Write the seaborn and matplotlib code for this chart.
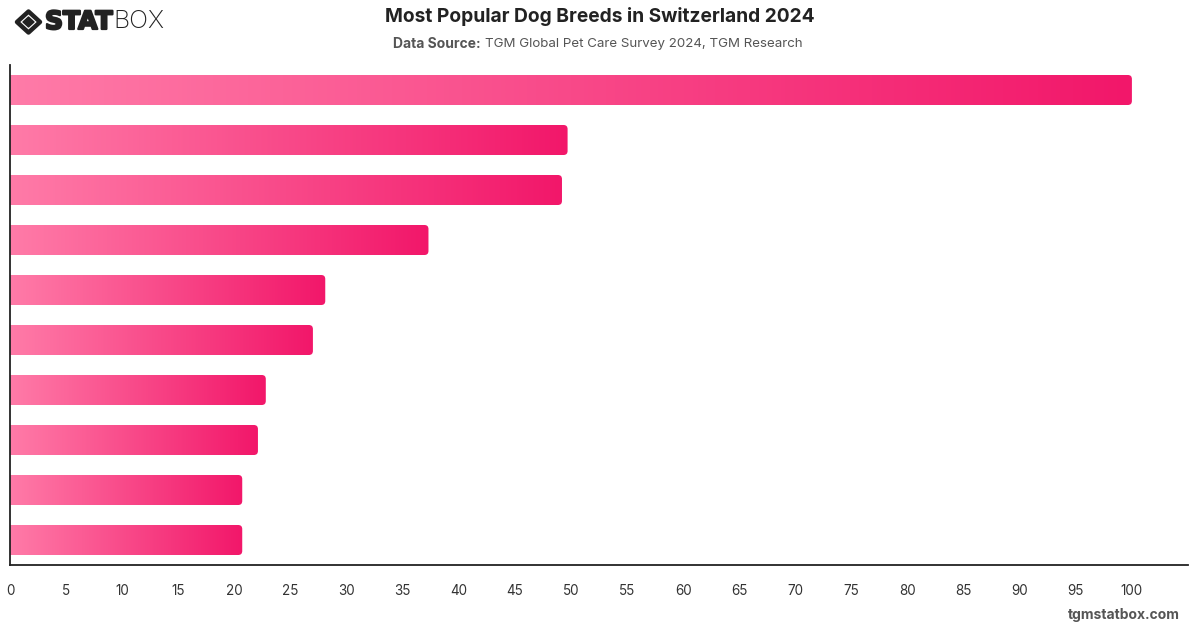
import numpy as np
import pandas as pd
import matplotlib
matplotlib.use("Agg")
import matplotlib.pyplot as plt
import matplotlib.patheffects as pe
from matplotlib.colors import LinearSegmentedColormap
from matplotlib.patches import FancyBboxPatch, Polygon
import seaborn as sns

# breed names are not shown on the chart, so bars are keyed by rank
ranks = ["1", "2", "3", "4", "5", "6", "7", "8", "9", "10"]
scores = [100, 49.7, 49.2, 37.3, 28.1, 27.0, 22.8, 22.1, 20.7, 20.7]
x_ticks = list(range(0, 101, 5))

title = "Most Popular Dog Breeds in Switzerland 2024"
source_label = "Data Source:"
source_text = "TGM Global Pet Care Survey 2024, TGM Research"

sns.set_style("white")
plt.rcParams['font.family'] = ['Inter', 'DejaVu Sans']

df = pd.DataFrame({"rank": ranks, "score": scores})

fig = plt.figure(figsize=(12, 6.28), dpi=100)
ax = fig.add_axes([10 / 1200, 1 - 565 / 628, 1178 / 1200, 500 / 628])
sns.barplot(data=df, x="score", y="rank", orient="h", width=0.6,
            color="#F2186A", ax=ax)

# swap the flat bars for left-to-right gradients with rounded ends
pink = LinearSegmentedColormap.from_list("pink", ["#FF7BA8", "#F2176A"])
grad = np.linspace(0, 1, 256).reshape(1, -1)
for p in list(ax.patches):
    x0, y0, w, h = p.get_x(), p.get_y(), p.get_width(), p.get_height()
    p.set_visible(False)
    im = ax.imshow(grad, extent=[x0, x0 + w, y0 + h, y0], cmap=pink,
                   aspect='auto', zorder=2, interpolation='bilinear')
    clip = FancyBboxPatch((x0 - 1, y0), w + 1, h,
                          boxstyle="round,pad=0,rounding_size=0.36",
                          mutation_aspect=0.2246, transform=ax.transData,
                          facecolor='none', edgecolor='none')
    ax.add_patch(clip)
    im.set_clip_path(clip)

ax.set_xlim(0, 105)
ax.set_ylim(9.5, -0.5)
ax.set_xticks(x_ticks)
ax.set_yticks([])
ax.set_xlabel("")
ax.set_ylabel("")
ax.tick_params(axis='x', length=0, pad=14, labelsize=9.7, labelcolor='#333333')
for s in ['top', 'right']:
    ax.spines[s].set_visible(False)
for s in ['left', 'bottom']:
    ax.spines[s].set_color('#222222')
    ax.spines[s].set_linewidth(1.3)

# titles
fig.text(0.5, 1 - 17 / 628, title, ha='center', va='center',
         fontsize=13.8, fontweight='bold', color='#222222')
fig.text(393 / 1200, 1 - 44 / 628, source_label, ha='left', va='center',
         fontsize=10, fontweight='bold', color='#555555')
fig.text(485 / 1200, 1 - 44 / 628, source_text, ha='left', va='center',
         fontsize=9.6, color='#555555')

# logo, drawn in pixel coordinates of a small axes
lg = fig.add_axes([0, 1 - 45 / 628, 200 / 1200, 45 / 628])
lg.set_xlim(0, 200)
lg.set_ylim(45, 0)
lg.axis('off')
cx, cy = 28.5, 22
lg.add_patch(Polygon([(cx - 11.5, cy), (cx, cy - 10.5), (cx + 11.5, cy), (cx, cy + 10.5)],
                     closed=True, facecolor='none', edgecolor='#222222',
                     linewidth=3.2, joinstyle='round'))
lg.add_patch(Polygon([(cx - 5.5, cy), (cx, cy - 5), (cx + 5.5, cy), (cx, cy + 5)],
                     closed=True, facecolor='#222222', edgecolor='#222222',
                     linewidth=1, joinstyle='round'))
lg.text(45, 22, "STAT", ha='left', va='center', fontsize=18,
        fontweight='bold', color='#222222', family='DejaVu Sans',
        path_effects=[pe.withStroke(linewidth=1.6, foreground='#222222')])
lg.text(113, 22, "BOX", ha='left', va='center', fontsize=18,
        fontweight='light', color='#222222')

fig.text(1180 / 1200, 1 - 615 / 628, "tgmstatbox.com", ha='right', va='center',
         fontsize=10, fontweight='bold', color='#555555')

fig.savefig("out.png", dpi=100)
